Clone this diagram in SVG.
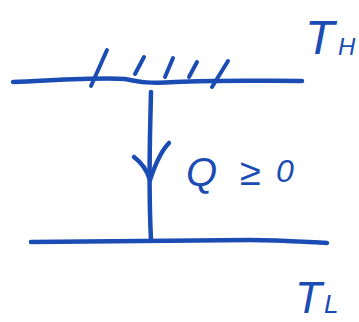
<svg xmlns="http://www.w3.org/2000/svg" width="359" height="322" viewBox="0 0 359 322">
<style>
.s{fill:none;stroke:#1a4cb4;stroke-width:4.5;stroke-linecap:round;stroke-linejoin:round}
.h{fill:none;stroke:#1a4cb4;stroke-width:4;stroke-linecap:round}
.t{fill:#1a4cb4;font-family:"Liberation Sans",Arial,sans-serif;font-style:italic}
</style>
<rect width="359" height="322" fill="#fff"/>
<g id="hot-reservoir">
<path class="s" d="M13,82 C60,80 100,77 125,79 C140,82 150,84 175,82 C220,80 260,81 302,81"/>
<path class="h" d="M91,86 L107,50"/>
<path class="h" d="M135,74 L144,57"/>
<path class="h" d="M165,77 L173,58"/>
<path class="h" d="M189,77 L197,62"/>
<path class="h" d="M212,87 L228,61"/>
<text class="t" x="305" y="54" font-size="48" font-style="normal">T</text>
<text class="t" x="338" y="55" font-size="24">H</text>
</g>
<g id="cold-reservoir">
<path class="s" d="M31,242 C120,241 200,240 250,240 C280,240 305,242 327,243"/>
<text class="t" x="295" y="313" font-size="44" font-style="normal">T</text>
<text class="t" x="324" y="313" font-size="26">L</text>
</g>
<g id="connectors">
<path class="s" d="M151,92 C150,140 148,180 151,240"/>
<path class="s" d="M134,157 C142,163 147,170 150,180 C155,165 162,150 169,143"/>
</g>
<g id="heat-label">
<text class="t" x="186" y="186" font-size="40">Q</text>
<text class="t" x="240" y="185" font-size="38" font-style="normal">≥</text>
<text class="t" x="276" y="182" font-size="32" font-style="normal">0</text>
</g>
</svg>
